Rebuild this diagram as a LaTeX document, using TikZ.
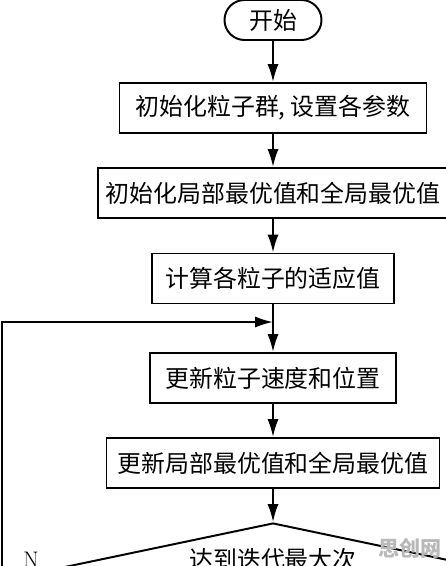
\documentclass[tikz,border=0pt]{standalone}
\usepackage{fontspec}
\newfontfamily\cjk{Noto Sans CJK SC}
\usetikzlibrary{shapes.geometric,arrows.meta}

\begin{document}
\begin{tikzpicture}[
	box/.style={draw, line width=1.4pt, minimum height=1.25cm, inner sep=0pt, font=\cjk\fontsize{17}{20}\selectfont},
	flow/.style={line width=1.4pt, -{Latex[length=0.45cm,width=0.28cm]}}
	]
	% Fix the page size
	\useasboundingbox (0,0) rectangle (11.15,-14.15);
	\clip (0,0) rectangle (11.15,-14.15);
	
	% Draw the start node
	\node[box, rounded corners=0.5cm, minimum width=2.425cm, minimum height=1.0cm] (start) at (6.825,-0.5) {开始};
	
	% Draw the process boxes
	\node[box, minimum width=7.675cm] (init) at (6.825,-2.7) {初始化粒子群, 设置各参数};
	\node[box, minimum width=8.75cm] (best0) at (6.825,-4.825) {初始化局部最优值和全局最优值};
	\node[box, minimum width=6.05cm] (fit) at (6.825,-6.9625) {计算各粒子的适应值};
	\node[box, minimum width=6.15cm] (move) at (6.825,-9.45) {更新粒子速度和位置};
	\node[box, minimum width=8.325cm] (best) at (6.825,-11.575) {更新局部最优值和全局最优值};
	
	% Draw the decision
	\node[draw, line width=1.4pt, diamond, aspect=4.75, minimum width=13.05cm, minimum height=2.75cm, inner sep=0pt] (stop) at (6.825,-14.45) {};
	\node[font=\cjk\fontsize{17}{20}\selectfont] (stoptxt) at (6.825,-13.975) {达到迭代最大次};
	
	% Connect the steps
	\draw[flow] (start) -- (init);
	\draw[flow] (init) -- (best0);
	\draw[flow] (best0) -- (fit);
	\draw[flow] (fit) -- (move);
	\draw[flow] (move) -- (best);
	\draw[flow] (best) -- (stop);
	
	% Loop back when the stop test fails
	\coordinate (merge) at (6.825,-8.05);
	\coordinate (lft) at (0.05,-14.45);
	\draw[flow] (stop.west) -- (lft) |- (merge);
	\node[font=\fontsize{16}{19}\selectfont] (no) at (0.775,-14.0) {N};
	
	% Watermark
	\node[text=gray!55, font=\cjk\bfseries\fontsize{15}{18}\selectfont] (mark) at (10.25,-13.7) {思创网};
\end{tikzpicture}
\end{document}
